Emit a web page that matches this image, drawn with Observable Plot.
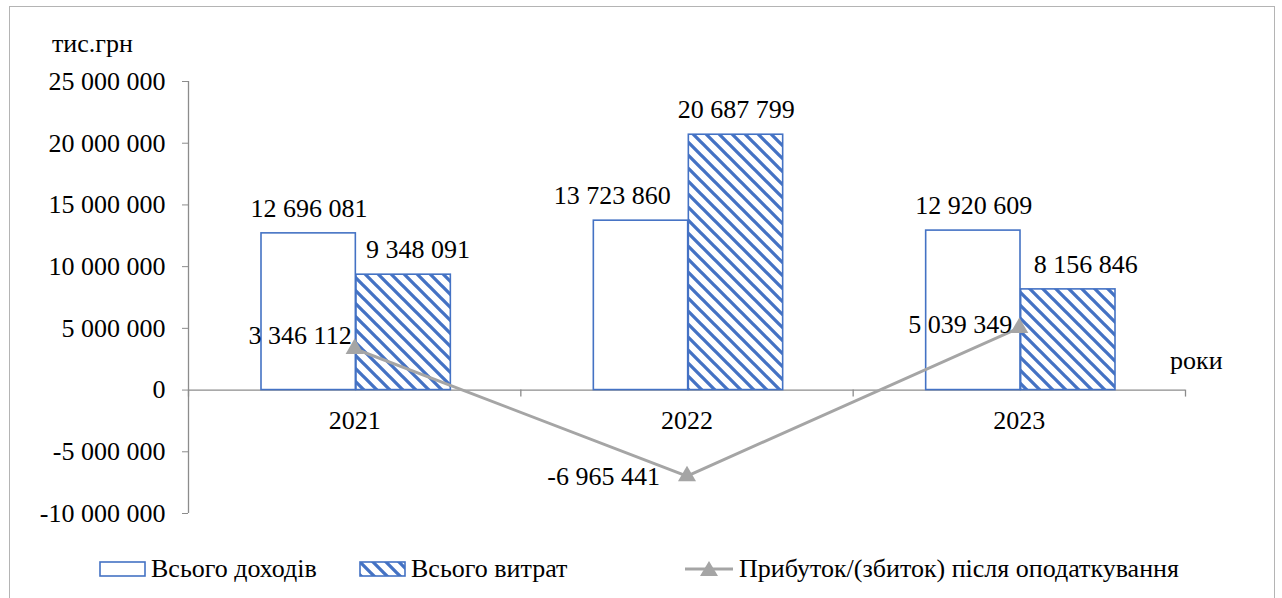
<!DOCTYPE html>
<html>
<head>
<meta charset="utf-8">
<script src="https://cdn.jsdelivr.net/npm/d3@7"></script>
<script src="https://cdn.jsdelivr.net/npm/@observablehq/plot@0.6"></script>
<style>
  body { margin: 0; font-family: 'Liberation Serif', 'Times New Roman', serif; font-size: 26px; }
  #wrap { position: relative; width: 1282px; height: 598px; overflow: hidden; }
  #border { position: absolute; left: 9px; top: 6px; width: 1266px; height: 600px; border: 1px solid #b4b4b4; box-sizing: border-box; }
  #chart { position: absolute; left: 0; top: 0; }
  .lab { position: absolute; color: #000; white-space: nowrap; line-height: 1; font-family: 'Liberation Serif', 'Times New Roman', serif; }
  #legend { position: absolute; left: 0; top: 540px; width: 1282px; height: 58px; }
  .leg { position: absolute; top: 14px; display: flex; align-items: center; white-space: nowrap; font-family: 'Liberation Serif', 'Times New Roman', serif; }
  .leg svg { display: block; margin-right: 4px; }
</style>
</head>
<body>
<div id="wrap">
  <div id="border"></div>
  <div id="chart"></div>
  <div class="lab" style="left:52px; top:31px;">тис.грн</div>
  <div class="lab" style="left:1170px; top:348px;">роки</div>
  <div id="legend"></div>
</div>
<script>
// ---- data ----
const years = ["2021", "2022", "2023"];
const income = [12696081, 13723860, 12920609];
const expenses = [9348091, 20687799, 8156846];
const profit = [3346112, -6965441, 5039349];
const yTicks = [-10000000, -5000000, 0, 5000000, 10000000, 15000000, 20000000, 25000000];
const seriesNames = ["Всього доходів", "Всього витрат", "Прибуток/(збиток) після оподаткування"];

// ---- label nudges (styling only) ----
const incomeDx = [0, -29, 0];
const expenseDx = [14, 0, 17];
const profitDx = [-3, -27, -7];
const profitDy = [-13, 1, -3];

const fmt = d3.formatLocale({decimal: ",", thousands: " ", grouping: [3], currency: ["", ""], minus: "-"}).format(",d");

const incRows = years.map((y, i) => ({year: y, value: income[i], i}));
const expRows = years.map((y, i) => ({year: y, value: expenses[i], i}));
const profRows = years.map((y, i) => ({year: y, value: profit[i], i}));
const zeroRows = years.map((y, i) => ({year: y, value: 0, i}));

const BLUE = "#4472c4";
const GRAY = "#a5a5a5";
const AXIS = "#8c8c8c";
const FS = 26;
const FONT = "'Liberation Serif', 'Times New Roman', serif";
const W = 1282, H = 540;
const bandW = (1185 - 188) / years.length;

const marks = [
  Plot.ruleY([0], {stroke: AXIS, strokeWidth: 1.3}),
  Plot.ruleX([years[0]], {y1: yTicks[0], y2: yTicks[yTicks.length - 1], dx: -bandW / 2, stroke: AXIS, strokeWidth: 1.3}),
  Plot.ruleX(years, {y1: 0, y2: 0, insetBottom: -7, dx: -bandW / 2, stroke: AXIS, strokeWidth: 1.3}),
  Plot.ruleX([years[years.length - 1]], {y1: 0, y2: 0, insetBottom: -7, dx: bandW / 2, stroke: AXIS, strokeWidth: 1.3}),
  Plot.barY(incRows, {x: "year", y: "value", insetLeft: 73, insetRight: 165, fill: "white", stroke: BLUE, strokeWidth: 1.6}),
  Plot.barY(expRows, {x: "year", y: "value", insetLeft: 168, insetRight: 70, fill: "url(#hatch)", stroke: BLUE, strokeWidth: 1.6}),
  Plot.line(profRows, {x: "year", y: "value", stroke: GRAY, strokeWidth: 3}),
  Plot.dot(profRows, {x: "year", y: "value", symbol: "triangle", r: 6.7, fill: GRAY, stroke: "none"}),
  Plot.axisY({ticks: yTicks, tickFormat: fmt, tickSize: 6, tickPadding: 17, stroke: AXIS, fill: "black", fontSize: FS, fontFamily: FONT, label: null}),
  Plot.text(zeroRows, {x: "year", y: "value", text: d => d.year, dy: 31, fontSize: FS, fontFamily: FONT, fill: "black"}),
];
years.forEach((y, i) => {
  marks.push(Plot.text(incRows.filter(d => d.i === i), {x: "year", y: "value", text: d => fmt(d.value), dx: -bandW / 2 + 73 + 47.5 + incomeDx[i], dy: -25, fontSize: FS, fontFamily: FONT, fill: "black"}));
  marks.push(Plot.text(expRows.filter(d => d.i === i), {x: "year", y: "value", text: d => fmt(d.value), dx: -bandW / 2 + 168 + 47.5 + expenseDx[i], dy: -25, fontSize: FS, fontFamily: FONT, fill: "black"}));
  marks.push(Plot.text(profRows.filter(d => d.i === i), {x: "year", y: "value", text: d => fmt(d.value), textAnchor: "end", dx: profitDx[i], dy: profitDy[i], fontSize: FS, fontFamily: FONT, fill: "black"}));
});

const chart = Plot.plot({
  width: W,
  height: H,
  marginLeft: 188,
  marginRight: 97,
  marginTop: 81,
  marginBottom: 27,
  style: {background: "transparent", overflow: "visible", fontFamily: FONT},
  x: {domain: years, padding: 0, round: false, axis: null},
  y: {domain: [yTicks[0], yTicks[yTicks.length - 1]], axis: null},
  marks
});

const svgSel = d3.select(chart);
const defs = svgSel.insert("defs", ":first-child");
const pat = defs.append("pattern").attr("id", "hatch").attr("patternUnits", "userSpaceOnUse").attr("width", 13).attr("height", 13);
pat.append("rect").attr("width", 13).attr("height", 13).attr("fill", "white");
pat.append("path").attr("d", "M-2,-2 L15,15 M-8.5,4.5 L4.5,17.5 M4.5,-8.5 L17.5,4.5").attr("stroke", BLUE).attr("stroke-width", 3.3);
document.getElementById("chart").appendChild(chart);

const legend = document.getElementById("legend");
function legItem(left, swatch, text) {
  const div = document.createElement("div");
  div.className = "leg";
  div.style.left = left + "px";
  div.innerHTML = swatch + "<span>" + text + "</span>";
  legend.appendChild(div);
}
const hatchDef = '<defs><pattern id="hatch2" patternUnits="userSpaceOnUse" width="13" height="13"><rect width="13" height="13" fill="white"/><path d="M-2,-2 L15,15 M-8.5,4.5 L4.5,17.5 M4.5,-8.5 L17.5,4.5" stroke="' + BLUE + '" stroke-width="3.3"/></pattern></defs>';
legItem(99, '<svg width="48" height="17"><rect x="1" y="1" width="45" height="14" fill="white" stroke="' + BLUE + '" stroke-width="1.6"/></svg>', seriesNames[0]);
legItem(359, '<svg width="48" height="17">' + hatchDef + '<rect x="1" y="1" width="45" height="14" fill="url(#hatch2)" stroke="' + BLUE + '" stroke-width="1.6"/></svg>', seriesNames[1]);
legItem(685, '<svg width="50" height="20"><line x1="0" y1="10" x2="48" y2="10" stroke="' + GRAY + '" stroke-width="3"/><path d="M24,2 L33,17 L15,17 Z" fill="' + GRAY + '"/></svg>', seriesNames[2]);
</script>
</body>
</html>
